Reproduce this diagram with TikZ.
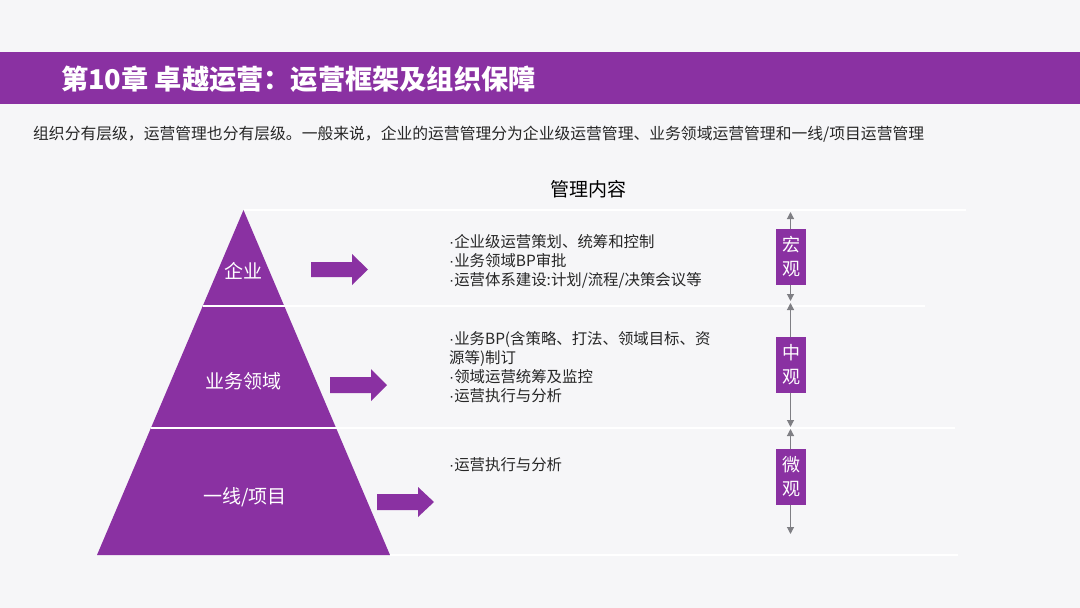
\documentclass[tikz,border=0pt]{standalone}
\usepackage{fontspec}
\setmainfont{Noto Sans CJK SC}
\newfontfamily\latinf{Liberation Sans}
\newcommand{\dotmark}{{\latinf ·}}
\usetikzlibrary{arrows.meta}
\definecolor{purp}{HTML}{8A31A2}
\definecolor{bgc}{HTML}{F6F6F8}
\definecolor{arrgray}{HTML}{7F7F84}
\begin{document}
\begin{tikzpicture}[x=1pt,y=-1pt,
  divider/.style={white,line width=1.6pt},
  lvl/.style={text=white,font=\fontsize{19}{22}\selectfont,inner sep=0pt},
  content/.style={anchor=west,align=left,inner sep=0pt,text=black!85,font=\fontsize{15.4}{19}\selectfont},
  tag/.style={fill=purp,text=white,minimum width=30pt,minimum height=56pt,inner sep=0pt,align=center,font=\fontsize{18}{24}\selectfont},
  scalearrow/.style={arrgray,line width=1.1pt,{Triangle[length=7pt,width=7pt]}-{Triangle[length=7pt,width=7pt]}},
  blockarrow/.style={fill=purp}]
\fill[bgc] (0,0) rectangle (1080,608);
\useasboundingbox (0,0) rectangle (1080,608);
% header band
\fill[purp] (0,52) rectangle (1080,104);
\node[anchor=west,inner sep=0pt,text=white,font=\fontsize{27.2}{30}\selectfont\bfseries] (title) at (61,79) {第10章 卓越运营：运营框架及组织保障};
\node[anchor=west,inner sep=0pt,text=black!85,font=\fontsize{15.8}{18}\selectfont] (sub) at (33,134) {组织分有层级，运营管理也分有层级。一般来说，企业的运营管理分为企业级运营管理、业务领域运营管理和一线/项目运营管理};
\node[inner sep=0pt,text=black,font=\fontsize{19}{22}\selectfont] (head) at (588,189) {管理内容};
% pyramid
\coordinate (apex) at (243.5,210);
\coordinate (bl) at (97,555);
\coordinate (br) at (390,555);
\fill[purp] (apex) -- (bl) -- (br) -- cycle;
\draw[divider] (apex) -- (966,210);
\draw[divider] (202.7,306) -- (925,306);
\draw[divider] (151,428) -- (955,428);
\draw[divider] (br) -- (958,555);
\node[lvl] (l1) at (243.5,271) {企业};
\node[lvl] (l2) at (243.5,381) {业务领域};
\node[lvl] (l3) at (245,497) {一线/项目};
% block arrows
\fill[blockarrow] (311,262) -- (352,262) -- (352,254) -- (368,269.5) -- (352,285) -- (352,277) -- (311,277) -- cycle;
\fill[blockarrow] (330,377) -- (371,377) -- (371,369) -- (387,385) -- (371,401) -- (371,393) -- (330,393) -- cycle;
\fill[blockarrow] (377,494) -- (418,494) -- (418,487) -- (434,502) -- (418,517) -- (418,510) -- (377,510) -- cycle;
% contents
\node[content] (c1) at (449,261) {\dotmark 企业级运营策划、统筹和控制\\\dotmark 业务领域BP审批\\\dotmark 运营体系建设:计划/流程/决策会议等};
\node[content] (c2) at (449,367) {\dotmark 业务BP(含策略、打法、领域目标、资\\源等)制订\\\dotmark 领域运营统筹及监控\\\dotmark 运营执行与分析};
\node[content] (c3) at (449,465) {\dotmark 运营执行与分析};
% scale
\coordinate (s1t) at (790.5,212);
\coordinate (s1b) at (790.5,301);
\coordinate (s2t) at (790.5,303);
\coordinate (s2b) at (790.5,427);
\coordinate (s3t) at (790.5,429);
\coordinate (s3b) at (790.5,534);
\draw[scalearrow] (s1t) -- (s1b);
\draw[scalearrow] (s2t) -- (s2b);
\draw[scalearrow] (s3t) -- (s3b);
\node[tag] (t1) at (791,257) {宏\\观};
\node[tag] (t2) at (791,365) {中\\观};
\node[tag] (t3) at (791,476.5) {微\\观};
\end{tikzpicture}
\end{document}
